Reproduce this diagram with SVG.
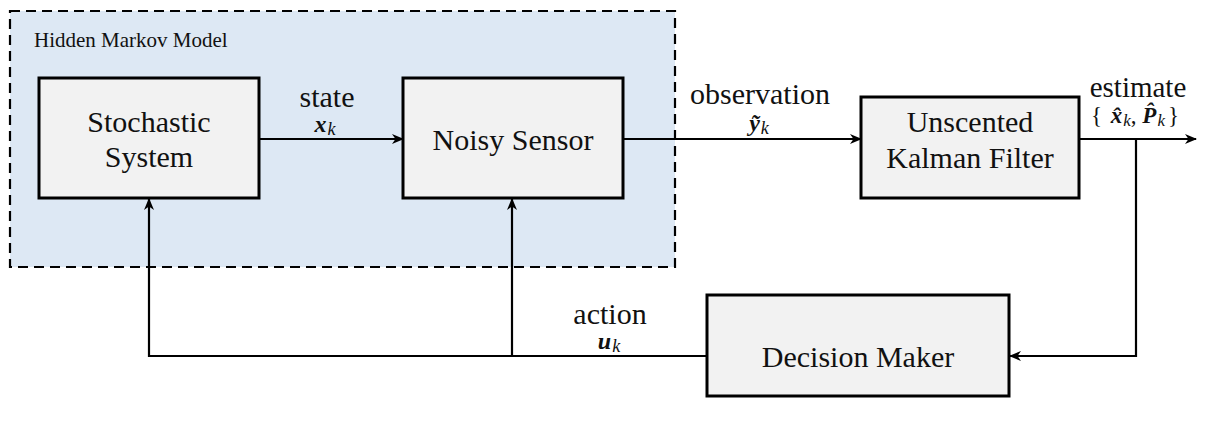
<svg xmlns="http://www.w3.org/2000/svg" width="1205" height="422" viewBox="0 0 1205 422">
<style>
.box{fill:#f2f2f2;stroke:#000;stroke-width:3}
.ln{fill:none;stroke:#000;stroke-width:2.2}
</style>
<defs>
<marker id="ah" viewBox="0 0 12 10" refX="11" refY="5" markerWidth="12" markerHeight="10" markerUnits="userSpaceOnUse" orient="auto">
<path d="M0,0 L12,5 L0,10 L3.5,5 z" fill="#000"/>
</marker>
</defs>
<rect width="1205" height="422" fill="#fff"/>
<g font-family="Liberation Serif, serif" fill="#111">
<g id="hmm">
<rect x="10" y="11" width="665" height="256" fill="#dde8f4" stroke="#000" stroke-width="2.2" stroke-dasharray="10 6"/>
<text x="34" y="47" font-size="21">Hidden Markov Model</text>
</g>
<g id="stochastic" font-size="30" text-anchor="middle">
<rect class="box" x="39" y="78" width="220" height="120"/>
<text x="149" y="132">Stochastic</text>
<text x="149" y="167">System</text>
</g>
<g id="sensor" font-size="30" text-anchor="middle">
<rect class="box" x="403" y="78" width="220" height="120"/>
<text x="513" y="150">Noisy Sensor</text>
</g>
<g id="ukf" font-size="30" text-anchor="middle">
<rect class="box" x="861" y="97" width="218" height="101"/>
<text x="970" y="132">Unscented</text>
<text x="970" y="168">Kalman Filter</text>
</g>
<g id="decision" font-size="30" text-anchor="middle">
<rect class="box" x="707" y="295" width="302" height="101"/>
<text x="858" y="367">Decision Maker</text>
</g>
<g id="connectors">
<path class="ln" d="M259,139 H403" marker-end="url(#ah)"/>
<path class="ln" d="M623,139 H861" marker-end="url(#ah)"/>
<path class="ln" d="M1079,139 H1196" marker-end="url(#ah)"/>
<path class="ln" d="M1136,139 V356 H1010" marker-end="url(#ah)"/>
<path class="ln" d="M707,356 H149 V199" marker-end="url(#ah)"/>
<path class="ln" d="M512,356 V199" marker-end="url(#ah)"/>
</g>
<g id="labels" text-anchor="middle">
<text x="327" y="107" font-size="30">state</text>
<text x="325" y="132"><tspan font-size="24" font-weight="bold" font-style="italic">x</tspan><tspan font-size="18" font-style="italic" dx="1" dy="3">k</tspan></text>
<text x="760" y="104" font-size="30">observation</text>
<text x="759" y="131"><tspan font-size="24" font-weight="bold" font-style="italic">ỹ</tspan><tspan font-size="18" font-style="italic" dx="1" dy="3">k</tspan></text>
<text x="1138" y="97" font-size="29">estimate</text>
<text x="1135" y="123" font-size="23"><tspan>{ </tspan><tspan dx="3" font-weight="bold" font-style="italic">x̂</tspan><tspan font-size="17" font-style="italic" dx="1" dy="3">k</tspan><tspan dy="-3">, </tspan><tspan font-weight="bold" font-style="italic">P̂</tspan><tspan font-size="17" font-style="italic" dx="1" dy="3">k</tspan><tspan dx="3" dy="-3">}</tspan></text>
<text x="610" y="324" font-size="30">action</text>
<text x="609" y="349"><tspan font-size="24" font-weight="bold" font-style="italic">u</tspan><tspan font-size="18" font-style="italic" dx="1" dy="3">k</tspan></text>
</g>
</g>
</svg>
